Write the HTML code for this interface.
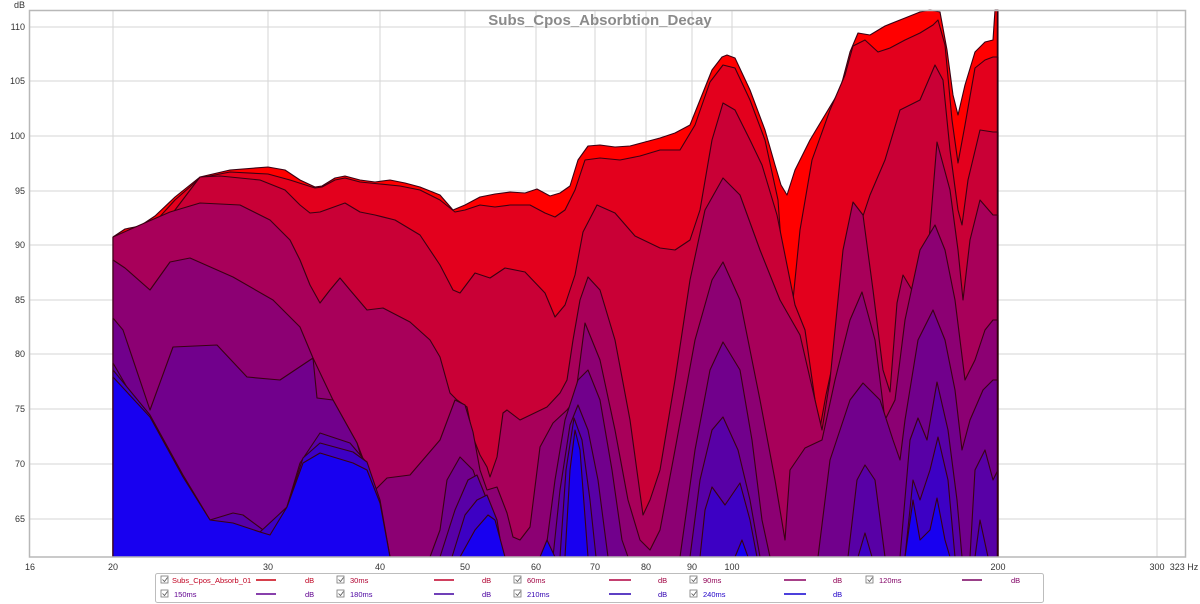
<!DOCTYPE html>
<html><head><meta charset="utf-8"><style>
html,body{margin:0;padding:0;background:#fff;width:1200px;height:604px;overflow:hidden}
text{font-family:"Liberation Sans",sans-serif}
</style></head><body>
<svg width="1200" height="604" viewBox="0 0 1200 604" xmlns="http://www.w3.org/2000/svg">
<rect width="1200" height="604" fill="#fff"/>
<g stroke="#d6d6d6" stroke-width="1">
<line x1="29" y1="27" x2="1186" y2="27"/><line x1="29" y1="81" x2="1186" y2="81"/>
<line x1="29" y1="136" x2="1186" y2="136"/><line x1="29" y1="191" x2="1186" y2="191"/>
<line x1="29" y1="245" x2="1186" y2="245"/><line x1="29" y1="300" x2="1186" y2="300"/>
<line x1="29" y1="354" x2="1186" y2="354"/><line x1="29" y1="409" x2="1186" y2="409"/>
<line x1="29" y1="464" x2="1186" y2="464"/><line x1="29" y1="519" x2="1186" y2="519"/>
<line x1="113" y1="10" x2="113" y2="557"/><line x1="268" y1="10" x2="268" y2="557"/>
<line x1="380" y1="10" x2="380" y2="557"/><line x1="465" y1="10" x2="465" y2="557"/>
<line x1="536" y1="10" x2="536" y2="557"/><line x1="595" y1="10" x2="595" y2="557"/>
<line x1="646" y1="10" x2="646" y2="557"/><line x1="692" y1="10" x2="692" y2="557"/>
<line x1="732" y1="10" x2="732" y2="557"/><line x1="998" y1="10" x2="998" y2="557"/>
<line x1="1157" y1="10" x2="1157" y2="557"/>
</g>
<text x="600" y="25" font-size="15" font-weight="bold" fill="#8a8a8a" text-anchor="middle">Subs_Cpos_Absorbtion_Decay</text>
<g stroke="#3a0012" stroke-width="1.1" stroke-linejoin="round">
<path fill="#ff0000" d="M113,557 L113,237 125,229 140,226 155,216 175,197 200,177 230,170 268,167 285,170 300,180 315,187 322,186 335,178 345,176 360,180 375,182 390,180 405,183 420,187 440,195 453,210 465,205 480,197 495,194 510,192 525,193 537,189 550,196 560,193 570,186 578,160 588,146 600,145 615,147 630,146 645,142 660,138 675,133 690,125 700,100 712,70 722,57 727,55 735,58 750,90 765,130 775,165 781,185 787,195 795,170 810,140 825,115 840,90 850,52 858,33 870,35 885,26 905,18 920,12 930,10 940,12 947,50 953,95 958,115 965,85 975,52 985,42 993,40 995,10 998,10 998,557 Z"/>
<path fill="#e3001d" d="M113,557 L113,237 125,236 140,232 155,222 175,200 200,178 230,172 268,174 290,180 315,188 322,187 335,180 345,178 360,182 380,184 400,186 420,190 440,200 455,212 465,210 480,205 495,207 510,205 530,205 545,213 555,217 565,210 575,190 585,160 600,158 620,160 640,156 660,150 680,150 695,125 710,82 723,65 735,68 750,100 765,140 778,200 783,270 787,305 793,300 800,230 812,160 830,110 845,75 853,46 865,40 878,52 890,48 905,40 920,33 933,25 938,20 945,45 952,120 958,163 965,125 975,68 985,60 993,57 998,57 998,557 Z"/>
<path fill="#c90036" d="M113,557 L113,237 125,236 140,240 155,232 175,210 200,177 220,176 260,180 285,190 300,205 310,213 320,212 345,203 360,212 375,215 395,220 420,235 440,265 453,290 460,293 475,273 490,278 505,268 525,272 545,293 555,317 565,305 575,275 583,232 597,205 615,213 635,236 660,248 675,250 690,240 700,210 712,140 723,103 735,110 750,140 762,165 777,215 787,265 795,305 805,330 815,400 820,428 826,395 840,330 855,240 870,195 885,160 900,110 920,100 935,65 943,80 950,150 958,210 962,225 968,180 980,130 993,132 998,132 998,557 Z"/>
<path fill="#a8005a" d="M113,557 L113,237 140,225 170,212 200,203 240,205 270,220 290,240 300,260 310,285 320,303 330,290 340,278 350,290 367,310 383,308 410,322 430,340 440,357 450,393 457,400 467,407 473,437 480,455 487,467 490,477 497,457 503,413 507,410 520,420 547,407 560,393 567,380 573,340 580,300 588,277 600,290 615,340 630,420 643,515 650,500 660,470 675,380 690,280 705,210 723,178 740,195 760,250 780,300 800,335 815,400 822,430 830,380 843,250 853,202 863,215 873,290 883,370 890,392 897,303 903,275 912,290 918,330 925,290 937,142 950,190 958,250 963,300 970,240 980,200 993,215 998,215 998,557 Z"/>
<path fill="#8c0073" d="M113,557 L113,260 125,268 150,290 170,262 190,258 233,277 273,300 300,327 313,358 333,400 357,443 375,490 387,478 410,475 440,440 455,400 465,405 473,432 480,470 487,490 497,487 507,513 513,537 520,540 530,527 540,447 553,423 567,410 575,400 585,323 600,360 615,430 628,500 640,540 650,550 660,530 675,450 695,340 712,280 723,262 740,300 760,400 775,480 785,540 790,470 805,448 822,440 835,380 850,320 862,292 875,340 885,420 895,400 905,320 920,250 935,225 945,250 955,300 965,380 975,360 985,330 993,320 998,320 998,557 Z"/>
<path fill="#71008c" d="M113,557 L113,318 123,330 150,410 173,347 217,345 247,377 280,380 313,358 317,398 333,400 357,443 383,530 390,557 Z M430,557 L440,530 447,480 460,457 473,470 487,510 495,557 Z M545,557 L555,480 565,420 578,380 588,370 600,400 612,470 622,540 628,557 Z M680,557 L695,450 710,370 723,342 740,370 752,440 762,520 770,557 Z M818,557 L830,460 850,400 863,383 880,400 893,440 900,460 905,420 918,340 933,310 945,340 955,390 962,450 970,420 983,390 993,380 998,380 998,557 Z"/>
<path fill="#5800a6" d="M113,557 L113,363 167,457 210,520 233,513 243,515 270,535 283,520 300,463 320,433 350,443 367,463 383,530 390,557 Z M440,557 L455,510 468,480 477,475 487,500 497,557 Z M553,557 L560,490 570,425 578,405 588,430 598,480 608,557 Z M690,557 L700,480 712,430 723,417 738,450 750,500 760,557 Z M848,557 L857,480 865,465 875,480 885,557 Z M900,557 L910,440 918,418 927,440 937,382 948,430 957,500 962,557 Z M970,557 L975,470 985,450 993,480 998,470 998,557 Z"/>
<path fill="#3d00c4" d="M113,557 L113,370 150,415 183,475 210,520 260,532 287,507 303,458 320,443 353,452 367,462 380,500 390,557 Z M452,557 L465,515 477,500 487,495 497,520 503,557 Z M560,557 L566,470 574,418 582,440 590,500 596,557 Z M700,557 L705,510 712,487 725,505 740,483 750,520 757,557 Z M858,557 L865,533 872,557 Z M905,557 L913,480 920,500 930,470 938,437 948,480 955,557 Z M975,557 L980,520 988,557 Z"/>
<path fill="#1800f0" d="M113,557 L113,377 150,417 183,477 210,520 233,523 260,532 270,535 287,507 303,463 320,453 353,463 367,470 380,503 390,557 Z M460,557 L475,530 488,515 495,520 505,557 Z M540,557 L547,540 555,557 Z M565,557 L570,470 575,430 580,450 588,557 Z M735,557 L742,540 748,557 Z M905,557 L913,500 920,540 930,530 937,498 945,540 950,557 Z"/>
</g>
<line x1="997.5" y1="10" x2="997.5" y2="557" stroke="#300010" stroke-width="1.5"/>
<rect x="29.5" y="10.5" width="1156" height="546.5" fill="none" stroke="#b8b8b8" stroke-width="1.5"/>
<g font-size="9" fill="#333" text-anchor="end">
<text x="25" y="8">dB</text>
<text x="25" y="30">110</text><text x="25" y="84">105</text><text x="25" y="139">100</text>
<text x="25" y="194">95</text><text x="25" y="248">90</text><text x="25" y="303">85</text>
<text x="25" y="357">80</text><text x="25" y="412">75</text><text x="25" y="467">70</text>
<text x="25" y="522">65</text>
</g>
<g font-size="9" fill="#333" text-anchor="middle">
<text x="30" y="570">16</text><text x="113" y="570">20</text><text x="268" y="570">30</text>
<text x="380" y="570">40</text><text x="465" y="570">50</text><text x="536" y="570">60</text>
<text x="595" y="570">70</text><text x="646" y="570">80</text><text x="692" y="570">90</text>
<text x="732" y="570">100</text><text x="998" y="570">200</text><text x="1157" y="570">300</text>
<text x="1184" y="570">323 Hz</text>
</g>
<rect x="155.5" y="573.5" width="888" height="29" rx="2" fill="#fff" stroke="#bdbdbd"/>
<g font-size="7.5">
<g fill="none" stroke="#777" stroke-width="0.8">
<rect x="161" y="576" width="7" height="7"/><rect x="337" y="576" width="7" height="7"/><rect x="514" y="576" width="7" height="7"/><rect x="690" y="576" width="7" height="7"/><rect x="866" y="576" width="7" height="7"/>
<rect x="161" y="590" width="7" height="7"/><rect x="337" y="590" width="7" height="7"/><rect x="514" y="590" width="7" height="7"/><rect x="690" y="590" width="7" height="7"/>
</g>
<g stroke-width="1.5">
<line x1="256" y1="580" x2="276" y2="580" stroke="#c80010"/><line x1="434" y1="580" x2="454" y2="580" stroke="#c0002a"/>
<line x1="609" y1="580" x2="631" y2="580" stroke="#b00040"/><line x1="784" y1="580" x2="806" y2="580" stroke="#8a0060"/>
<line x1="962" y1="580" x2="982" y2="580" stroke="#780060"/>
<line x1="256" y1="594" x2="276" y2="594" stroke="#600090"/><line x1="434" y1="594" x2="454" y2="594" stroke="#4000a0"/>
<line x1="609" y1="594" x2="631" y2="594" stroke="#2800b0"/><line x1="784" y1="594" x2="806" y2="594" stroke="#1000d0"/>
</g>
<text x="172" y="583" fill="#c00020">Subs_Cpos_Absorb_01</text><text x="305" y="583" fill="#c00020">dB</text>
<text x="350" y="583" fill="#b00030">30ms</text><text x="482" y="583" fill="#b00030">dB</text>
<text x="527" y="583" fill="#a00040">60ms</text><text x="658" y="583" fill="#a00040">dB</text>
<text x="703" y="583" fill="#900055">90ms</text><text x="833" y="583" fill="#900055">dB</text>
<text x="879" y="583" fill="#800065">120ms</text><text x="1011" y="583" fill="#800065">dB</text>
<text x="174" y="597" fill="#600090">150ms</text><text x="305" y="597" fill="#600090">dB</text>
<text x="350" y="597" fill="#4a00a0">180ms</text><text x="482" y="597" fill="#4a00a0">dB</text>
<text x="527" y="597" fill="#3000b0">210ms</text><text x="658" y="597" fill="#3000b0">dB</text>
<text x="703" y="597" fill="#2000c8">240ms</text><text x="833" y="597" fill="#2000c8">dB</text>
</g>
<g stroke="#555" stroke-width="0.8" fill="none">
<path d="M162.5,579.5 l2,2 l3,-4"/><path d="M338.5,579.5 l2,2 l3,-4"/><path d="M515.5,579.5 l2,2 l3,-4"/><path d="M691.5,579.5 l2,2 l3,-4"/><path d="M867.5,579.5 l2,2 l3,-4"/>
<path d="M162.5,593.5 l2,2 l3,-4"/><path d="M338.5,593.5 l2,2 l3,-4"/><path d="M515.5,593.5 l2,2 l3,-4"/><path d="M691.5,593.5 l2,2 l3,-4"/>
</g>
</svg>
</body></html>
